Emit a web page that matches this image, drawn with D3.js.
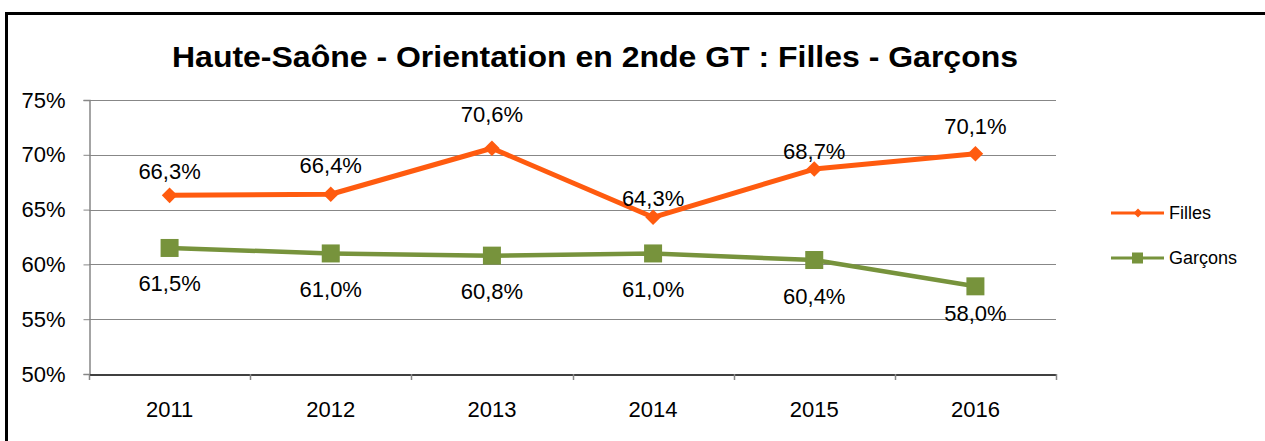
<!DOCTYPE html>
<html><head><meta charset="utf-8">
<script src="https://cdn.jsdelivr.net/npm/d3@7"></script>
<style>body{margin:0;background:#fff}svg{display:block;font-family:Arial,"Liberation Sans",sans-serif}</style>
</head><body><svg id="c" width="1265" height="441"></svg>
<script>
const years = ["2011","2012","2013","2014","2015","2016"];
const filles = [66.3, 66.4, 70.6, 64.3, 68.7, 70.1];
const garcons = [61.5, 61.0, 60.8, 61.0, 60.4, 58.0];
const yTicks = [50, 55, 60, 65, 70, 75];
const title = "Haute-Saône - Orientation en 2nde GT : Filles - Garçons";

const svg = d3.select("#c");
svg.append("rect").attr("x",6.5).attr("y",13.5).attr("width",1300).attr("height",500)
  .attr("fill","#fff").attr("stroke","#000").attr("stroke-width",3);

const L=89, R=1056, T=100, B=374;
const x = d3.scaleBand().domain(years).range([L,R]);
const y = d3.scaleLinear().domain([50,75]).range([B,T]);
const fmt = v => d3.format(".1f")(v).replace(".",",")+"%";
const FS = 22;
// label offsets (px, baseline relative to marker) as placed in the original
const fillesDy = [-16, -21, -26, -11, -10, -20];
const garconsDy = [43.5, 43.5, 43.5, 43.5, 43.5, 35];

svg.append("text").attr("x",172).attr("y",67)
  .attr("font-size",30).attr("font-weight","bold")
  .attr("textLength",846).attr("lengthAdjust","spacingAndGlyphs").text(title);

svg.append("g").selectAll("line").data(yTicks.slice(1)).join("line")
  .attr("x1",L).attr("x2",R).attr("y1",d=>Math.round(y(d))+0.5).attr("y2",d=>Math.round(y(d))+0.5)
  .attr("stroke","#878787").attr("stroke-width",1);

const ya = svg.append("g").attr("transform",`translate(${L+0.5},0)`)
  .call(d3.axisLeft(y).tickValues(yTicks).tickFormat(d=>d+"%").tickSize(6).tickPadding(18));
ya.select(".domain").attr("stroke","#878787").attr("stroke-width",1.5);
ya.selectAll(".tick line").attr("stroke","#878787");
ya.selectAll("text").attr("font-size",FS).attr("fill","#000").attr("font-family","Arial,'Liberation Sans',sans-serif");

const xa = svg.append("g").attr("transform",`translate(0,${B+0.5})`)
  .call(d3.axisBottom(x).tickSize(0).tickPadding(27));
xa.select(".domain").attr("stroke","#000").attr("stroke-width",1.5);
xa.selectAll("text").attr("font-size",FS).attr("fill","#000").attr("font-family","Arial,'Liberation Sans',sans-serif");
svg.append("g").selectAll("line").data(years.concat(["end"])).join("line")
  .attr("x1",(d,i)=>Math.round(L+i*x.bandwidth())+0.5).attr("x2",(d,i)=>Math.round(L+i*x.bandwidth())+0.5)
  .attr("y1",B).attr("y2",B+6).attr("stroke","#878787").attr("stroke-width",1.5);

const cx = d => x(d)+x.bandwidth()/2;
const orange="#FF5B0F", green="#77933C";
const line = d3.line().x((d,i)=>cx(years[i])).y(d=>y(d));

svg.append("path").datum(garcons).attr("d",line).attr("fill","none").attr("stroke",green).attr("stroke-width",4.5).attr("stroke-linejoin","round");
svg.append("path").datum(filles).attr("d",line).attr("fill","none").attr("stroke",orange).attr("stroke-width",5).attr("stroke-linejoin","round");

svg.append("g").selectAll("rect").data(garcons).join("rect")
  .attr("x",(d,i)=>cx(years[i])-9).attr("y",d=>y(d)-9).attr("width",18).attr("height",18).attr("fill",green);
const diamond = d3.symbol().type(d3.symbolDiamond2).size(155);
svg.append("g").selectAll("path").data(filles).join("path")
  .attr("transform",(d,i)=>`translate(${cx(years[i])},${y(d)})`).attr("d",diamond).attr("fill",orange);

svg.append("g").selectAll("text").data(filles).join("text")
  .attr("x",(d,i)=>cx(years[i])).attr("y",(d,i)=>y(d)+fillesDy[i]).attr("text-anchor","middle").attr("font-size",FS).text(fmt);
svg.append("g").selectAll("text").data(garcons).join("text")
  .attr("x",(d,i)=>cx(years[i])).attr("y",(d,i)=>y(d)+garconsDy[i]).attr("text-anchor","middle").attr("font-size",FS).text(fmt);

const leg = [{n:"Filles",c:orange,t:"d",yy:213},{n:"Garçons",c:green,t:"s",yy:258}];
const lg = svg.append("g");
leg.forEach(l=>{
  lg.append("line").attr("x1",1111).attr("x2",1164).attr("y1",l.yy).attr("y2",l.yy).attr("stroke",l.c).attr("stroke-width",3);
  if(l.t==="d") lg.append("path").attr("transform",`translate(1138,${l.yy})`).attr("d",d3.symbol().type(d3.symbolDiamond2).size(50)).attr("fill",l.c);
  else lg.append("rect").attr("x",1132).attr("y",l.yy-5.5).attr("width",11).attr("height",11).attr("fill",l.c);
  lg.append("text").attr("x",1169).attr("y",l.yy+6).attr("font-size",18).text(l.n);
});
</script></body></html>
